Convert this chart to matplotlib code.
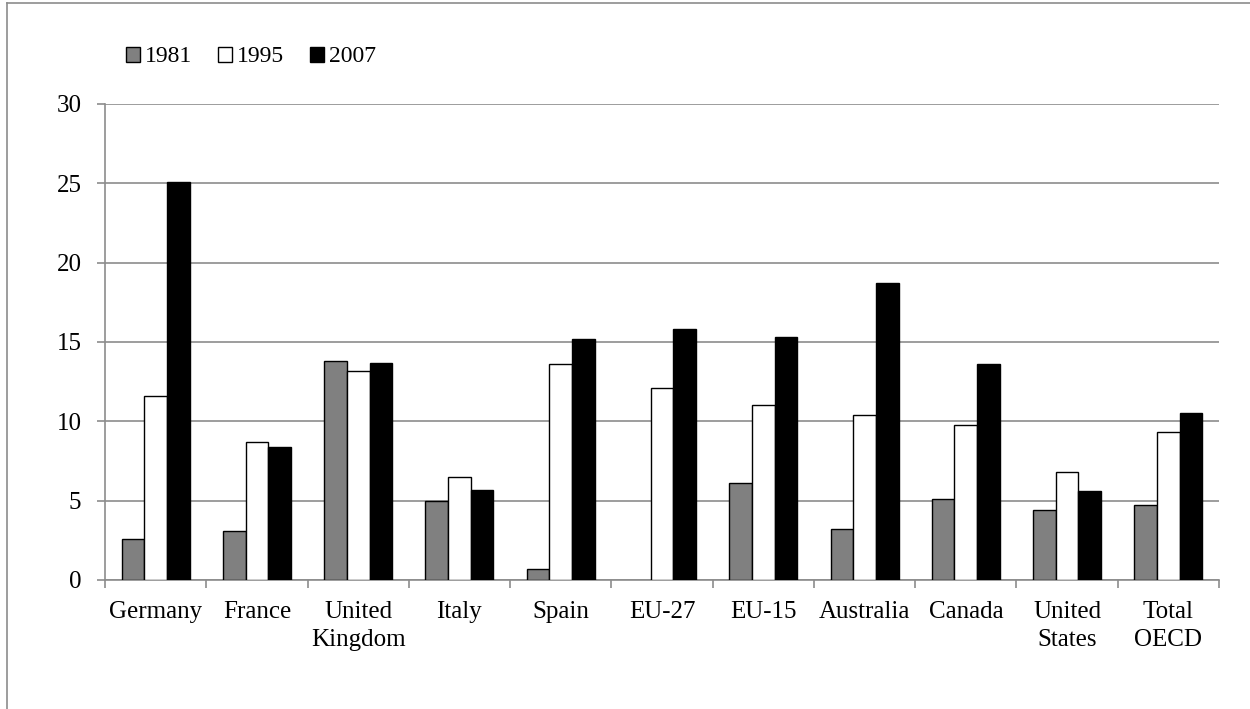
import numpy as np
import matplotlib
matplotlib.use('Agg')
import matplotlib.pyplot as plt
from matplotlib.lines import Line2D

plt.rcParams['font.family'] = ['Liberation Serif', 'DejaVu Serif']

# Data
countries = ['Germany', 'France', 'United\nKingdom', 'Italy', 'Spain', 'EU-27',
             'EU-15', 'Australia', 'Canada', 'United\nStates', 'Total\nOECD']
years = ['1981', '1995', '2007']
v1981 = [2.6, 3.1, 13.8, 5.0, 0.7, np.nan, 6.1, 3.2, 5.1, 4.4, 4.7]
v1995 = [11.6, 8.7, 13.2, 6.5, 13.6, 12.1, 11.0, 10.4, 9.8, 6.8, 9.3]
v2007 = [25.1, 8.4, 13.7, 5.7, 15.2, 15.8, 15.3, 18.7, 13.6, 5.6, 10.5]

series = [v1981, v1995, v2007]
fills = ['#808080', '#ffffff', '#000000']

W, H = 1250, 709
fig = plt.figure(figsize=(W / 100, H / 100), dpi=100)

# outer chart frame (top and left edges visible)
fig.add_artist(Line2D([7 / W, 1], [1 - 3 / H, 1 - 3 / H], color='#8c8c8c', lw=1.2))
fig.add_artist(Line2D([7 / W, 7 / W], [0, 1 - 3 / H], color='#8c8c8c', lw=1.2))

ax = fig.add_axes([105 / W, 1 - 580 / H, (1219 - 105) / W, (580 - 104) / H])

x = np.arange(len(countries))
bw = 0.224
for i, (vals, fc) in enumerate(zip(series, fills)):
    ax.bar(x + (i - 1) * bw, vals, width=bw, color=fc, edgecolor='black',
           linewidth=1.0, label=years[i], zorder=3)

ax.set_xlim(-0.5, len(countries) - 0.5)
ax.set_ylim(0, 30)
ax.set_yticks(range(0, 31, 5))
ax.yaxis.grid(True, color='#8c8c8c', linewidth=1.2, zorder=0)

ax.set_xticks(x)
ax.set_xticklabels(countries, fontsize=18, linespacing=1.35, va='top')
ax.set_xticks(np.arange(-0.5, len(countries), 1), minor=True)
ax.tick_params(axis='x', which='major', length=0, pad=15)
ax.tick_params(axis='x', which='minor', length=6, color='#8c8c8c', width=1.2, direction='out')
ax.tick_params(axis='y', labelsize=18, length=6, color='#8c8c8c', width=1.2, pad=11)

for s in ['top', 'right']:
    ax.spines[s].set_visible(False)
for s in ['left', 'bottom']:
    ax.spines[s].set_color('#8c8c8c')
    ax.spines[s].set_linewidth(1.2)

ax.legend(loc='center left', bbox_to_anchor=(21 / 1114, 1 + 47 / 476),
          ncol=3, frameon=False, fontsize=17, handlelength=0.6, handleheight=0.6,
          handletextpad=0.2, columnspacing=1.1, borderaxespad=0, borderpad=0)

fig.savefig('out.png', dpi=100)
